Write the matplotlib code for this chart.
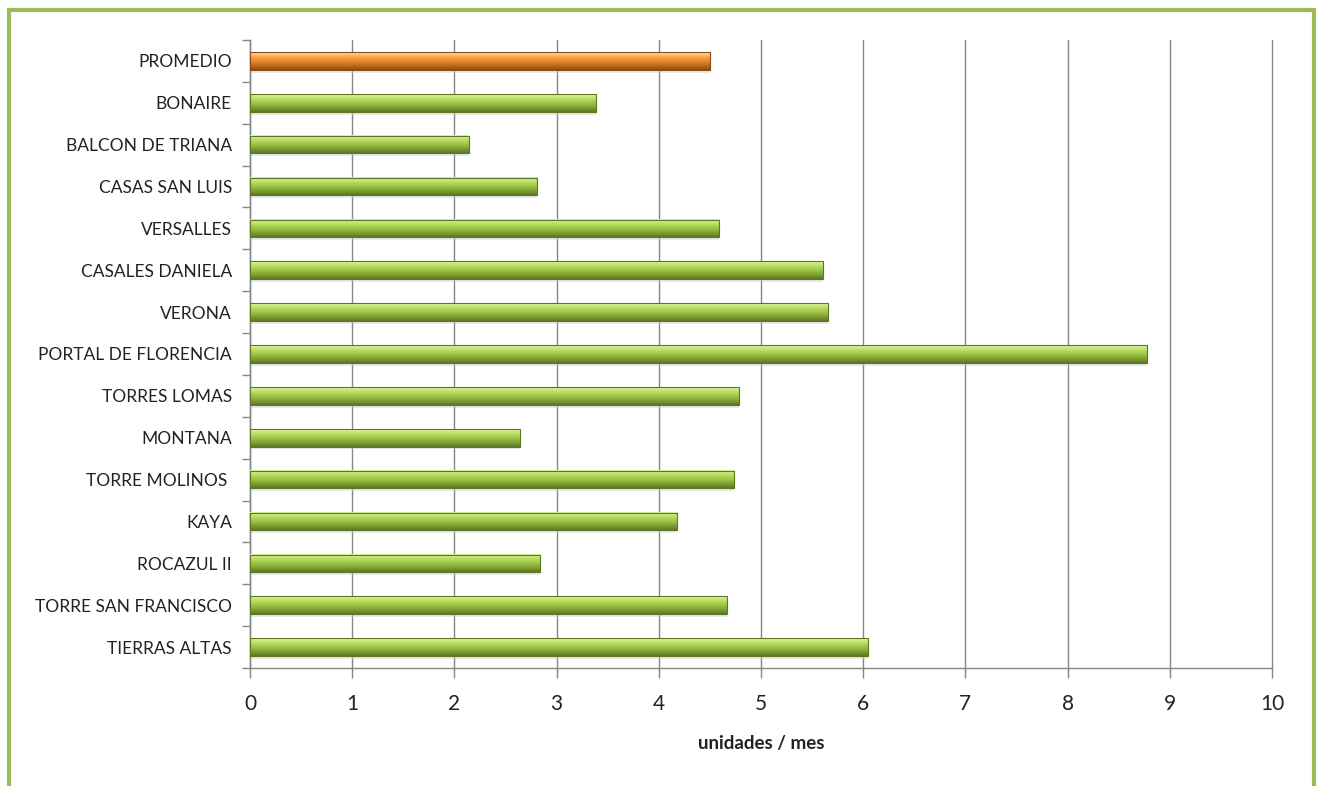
import matplotlib.pyplot as plt
import numpy as np
from matplotlib.colors import LinearSegmentedColormap
from matplotlib.patches import Rectangle

# data, top to bottom as shown in the chart
categories = [
    "PROMEDIO", "BONAIRE", "BALCON DE TRIANA", "CASAS SAN LUIS", "VERSALLES",
    "CASALES DANIELA", "VERONA", "PORTAL DE FLORENCIA", "TORRES LOMAS",
    "MONTANA", "TORRE MOLINOS ", "KAYA", "ROCAZUL II",
    "TORRE SAN FRANCISCO", "TIERRAS ALTAS",
]
values = [4.50, 3.39, 2.14, 2.81, 4.59, 5.61, 5.66, 8.78, 4.78,
          2.64, 4.74, 4.18, 2.84, 4.67, 6.05]
x_ticks = list(range(0, 11))
x_label = "unidades / mes"

plt.rcParams["font.family"] = ["Lato", "DejaVu Sans"]

green_cmap = LinearSegmentedColormap.from_list(
    "green_bar", ["#e2f4a2", "#c4e472", "#a9d04f", "#93b93f", "#7a9a32", "#5d7826"])
orange_cmap = LinearSegmentedColormap.from_list(
    "orange_bar", ["#fde0a2", "#f9b560", "#ee9436", "#dd7f27", "#b8641c", "#8f4c14"])

fig = plt.figure(figsize=(13.19, 7.86), dpi=100)
ax = fig.add_axes([250 / 1319, 1 - 668 / 786, (1272 - 250) / 1319, (668 - 40) / 786])

y_pos = np.arange(len(categories))
bar_h = 0.42

# soft shadow under each bar
ax.barh(y_pos + 0.07, values, height=bar_h, color="#d0d0d0", alpha=0.45,
        edgecolor="none", zorder=2)

bars = ax.barh(y_pos, values, height=bar_h, color="none", edgecolor="none", zorder=3)

gradient = np.linspace(0, 1, 64).reshape(-1, 1)
for i, bar in enumerate(bars):
    cmap = orange_cmap if categories[i] == "PROMEDIO" else green_cmap
    edge = "#8a4a14" if categories[i] == "PROMEDIO" else "#5b7624"
    x0, y0 = bar.get_x(), bar.get_y()
    w, h = bar.get_width(), bar.get_height()
    ax.imshow(gradient, cmap=cmap, aspect="auto", origin="upper",
              extent=(x0, x0 + w, y0 + h, y0), zorder=3, interpolation="bicubic")
    ax.add_patch(Rectangle((x0, y0), w, h, fill=False, edgecolor=edge,
                           linewidth=0.8, zorder=4))

ax.set_xlim(0, 10)
ax.set_ylim(len(categories) - 0.5, -0.5)

ax.set_xticks(x_ticks)
ax.set_xticklabels([str(t) for t in x_ticks], fontsize=15, color="#222222")
ax.set_yticks(y_pos)
ax.set_yticklabels(categories, fontsize=12.5, color="#222222")

# tick marks between categories on the y axis
ax.set_yticks(np.arange(-0.5, len(categories), 1), minor=True)
ax.tick_params(axis="y", which="major", length=0, pad=13)
ax.tick_params(axis="y", which="minor", length=6, color="#868686", width=1)
ax.tick_params(axis="x", length=7, color="#868686", width=1, pad=12)

ax.grid(axis="x", color="#868686", linewidth=1)
for gl in ax.get_xgridlines():
    gl.set_clip_on(False)
ax.set_axisbelow(True)

for side in ["top", "right"]:
    ax.spines[side].set_visible(False)
for side in ["left", "bottom"]:
    ax.spines[side].set_color("#868686")
    ax.spines[side].set_linewidth(1)

ax.set_xlabel(x_label, fontsize=13.5, fontweight="bold", color="#222222", labelpad=15)

# green outer frame
fig.patches.append(Rectangle((9 / 1319, -0.02), (1314 - 9) / 1319, 1.02 - 10 / 786,
                             transform=fig.transFigure, fill=False,
                             edgecolor="#9bbb59", linewidth=3))

fig.savefig("out.png", dpi=100)
